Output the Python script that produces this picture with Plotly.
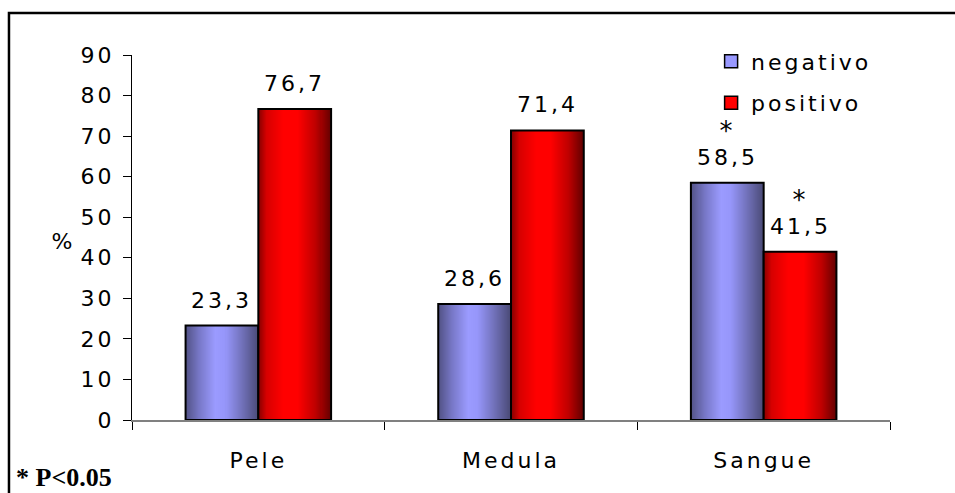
import plotly.graph_objects as go

# Data
categories = ["Pele", "Medula", "Sangue"]
negativo = [23.3, 28.6, 58.5]
positivo = [76.7, 71.4, 41.5]
significant_neg = [False, False, True]
significant_pos = [False, False, True]
y_ticks = [0, 10, 20, 30, 40, 50, 60, 70, 80, 90]

FONT = "DejaVu Sans, Arial, sans-serif"
SERIF = "Liberation Serif, Times New Roman, serif"
FS = 22
BAR_W = 0.288      # width of each bar in category units
N_SLICES = 72      # slices used for the cylindrical shading
LABEL_SHIFT = 11   # px between bar top and its value label
STAR_SHIFT = 35    # px between bar top and the significance star

# shading profile per series: (position across the bar, rgb)
BLUE_STOPS = [(0.0, (80, 80, 130)), (0.2, (120, 120, 200)), (0.42, (155, 155, 255)),
              (0.55, (150, 150, 250)), (0.8, (110, 110, 180)), (1.0, (75, 75, 120))]
RED_STOPS = [(0.0, (130, 0, 0)), (0.12, (215, 0, 0)), (0.35, (255, 0, 0)),
             (0.55, (255, 0, 0)), (0.8, (190, 0, 0)), (1.0, (100, 0, 0))]


def shade(stops, t):
    for (t0, c0), (t1, c1) in zip(stops, stops[1:]):
        if t0 <= t <= t1:
            f = (t - t0) / (t1 - t0) if t1 > t0 else 0
            r, g, b = (round(a + (b_ - a) * f) for a, b_ in zip(c0, c1))
            return f"rgb({r},{g},{b})"
    return "rgb(%d,%d,%d)" % stops[-1][1]


def fmt(v):
    return f"{v:.1f}".replace(".", ",")


fig = go.Figure()

series = [
    ("negativo", negativo, -BAR_W, BLUE_STOPS, "#9999ff", significant_neg),
    ("positivo", positivo, 0.0, RED_STOPS, "#ff0000", significant_pos),
]

step = BAR_W / N_SLICES
for name, vals, base, stops, legend_color, sig in series:
    # shaded slices
    for k in range(N_SLICES):
        fig.add_trace(go.Bar(
            x=categories, y=vals,
            offset=base + k * step, width=step * 1.6 if k < N_SLICES - 1 else step,
            marker=dict(color=shade(stops, (k + 0.5) / N_SLICES), line=dict(width=0)),
            showlegend=False, hoverinfo="skip",
        ))
    # outline
    fig.add_trace(go.Bar(
        x=categories, y=vals, offset=base, width=BAR_W,
        marker=dict(color="rgba(0,0,0,0)", line=dict(color="black", width=2)),
        showlegend=False, name=name,
    ))
    # legend entry
    fig.add_trace(go.Scatter(
        x=[None], y=[None], mode="markers", name=name, legendgroup=name,
        marker=dict(symbol="square", size=13, color=legend_color,
                    line=dict(color="black", width=1.5)),
    ))
    # value labels and significance marks
    for i, v in enumerate(vals):
        xc = i + base + BAR_W / 2
        fig.add_annotation(
            x=xc, y=v, text=fmt(v), showarrow=False,
            xanchor="center", yanchor="bottom", yshift=LABEL_SHIFT, xref="x", yref="y",
            font=dict(family=FONT, size=FS, color="black"),
        )
        if sig[i]:
            fig.add_annotation(
                x=xc, y=v, text="*", showarrow=False,
                xanchor="center", yanchor="bottom", yshift=STAR_SHIFT, xref="x", yref="y",
                font=dict(family=FONT, size=26, color="black"),
            )

# frame around the chart
fig.add_shape(type="rect", xref="paper", yref="paper",
              x0=-0.1623, x1=1.2, y0=-0.4, y1=1.115,
              line=dict(color="black", width=2.5), fillcolor="rgba(0,0,0,0)")

fig.add_annotation(text="%", xref="paper", yref="paper", x=-0.091, y=0.49,
                   xanchor="center", yanchor="middle", showarrow=False,
                   font=dict(family=FONT, size=FS, color="black"))
fig.add_annotation(text="<b>* P<0.05</b>", xref="paper", yref="paper",
                   x=-0.156, y=-0.203, xanchor="left", yanchor="bottom", showarrow=False,
                   font=dict(family=SERIF, size=26, color="black"))

fig.update_layout(
    width=955, height=493,
    margin=dict(l=132, r=65, t=55, b=73),
    paper_bgcolor="white", plot_bgcolor="white",
    barmode="overlay",
    font=dict(family=FONT, size=FS, color="black"),
    legend=dict(x=0.764, y=1.04, xanchor="left", yanchor="top",
                bgcolor="rgba(0,0,0,0)", tracegroupgap=10,
                font=dict(family=FONT, size=FS, color="black")),
    xaxis=dict(
        type="category", categoryorder="array", categoryarray=categories,
        range=[-0.5, 2.5], tickson="boundaries",
        showline=True, linecolor="#808080", linewidth=2,
        ticks="outside", ticklen=8, tickcolor="black", tickwidth=1,
        ticklabelstandoff=20, showgrid=False, zeroline=False,
        tickfont=dict(family=FONT, size=FS, color="black"),
    ),
    yaxis=dict(
        range=[0, 90], tickvals=y_ticks,
        showline=True, linecolor="black", linewidth=1,
        ticks="outside", ticklen=8, tickcolor="black", tickwidth=1,
        ticklabelstandoff=4, showgrid=False, zeroline=False,
        tickfont=dict(family=FONT, size=FS, color="black"),
    ),
)

# widen the tracking of the sans-serif labels; the legend box is sized
# before tracking is applied, so its clip path is dropped
letter_spacing_js = """
var gd = document.getElementById('{plot_id}');
function track() {
  gd.querySelectorAll('text').forEach(function (t) {
    var fam = t.style.fontFamily || '';
    if (fam.indexOf('Serif') < 0) { t.style.letterSpacing = '3px'; }
  });
  gd.querySelectorAll('.legend [clip-path]').forEach(function (e) {
    e.removeAttribute('clip-path');
  });
}
track();
gd.on('plotly_afterplot', track);
"""

fig.write_html("out.html", post_script=letter_spacing_js)
